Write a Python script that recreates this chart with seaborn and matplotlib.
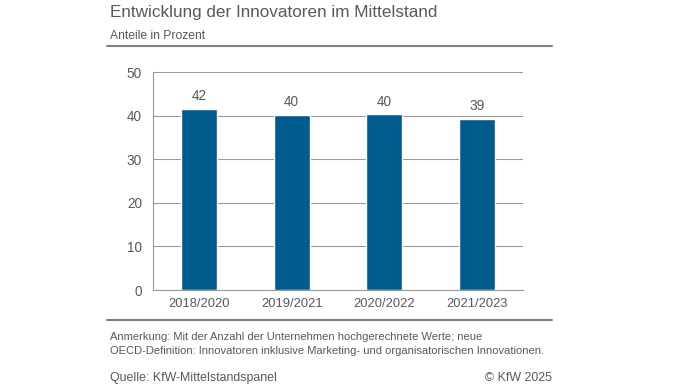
import matplotlib
matplotlib.use('Agg')
import matplotlib.pyplot as plt
import seaborn as sns
import pandas as pd
import numpy as np

# --- Data ---
periods = ['2018/2020', '2019/2021', '2020/2022', '2021/2023']
shares = [41.6, 40.1, 40.3, 39.3]
labels = ['42', '40', '40', '39']

title = 'Entwicklung der Innovatoren im Mittelstand'
subtitle = 'Anteile in Prozent'
note_lines = ['Anmerkung: Mit der Anzahl der Unternehmen hochgerechnete Werte; neue',
              'OECD-Definition: Innovatoren inklusive Marketing- und organisatorischen Innovationen.']
source = 'Quelle: KfW-Mittelstandspanel'
copyright_txt = '\u00a9 KfW 2025'

# --- Style ---
sns.set_style('white')
plt.rcParams['font.family'] = ['Liberation Sans', 'DejaVu Sans']
TEXT = '#595959'
BAR = '#005B8E'
GRID = '#9a9a9a'

df = pd.DataFrame({'period': periods, 'share': shares})

fig = plt.figure(figsize=(6.96, 3.92), dpi=100)
ax = fig.add_axes([153 / 696, 1 - 290 / 392, 370 / 696, 218 / 392])

sns.barplot(data=df, x='period', y='share', color=BAR, width=0.39,
            saturation=1, ax=ax, zorder=3)

ax.set_ylim(0, 50)
ax.set_xlim(-0.5, len(periods) - 0.5)
ax.set_yticks(np.arange(0, 51, 10))
ax.yaxis.grid(True, color=GRID, linewidth=0.8, zorder=0)
ax.set_axisbelow(True)
ax.set_xlabel('')
ax.set_ylabel('')

for s in ['top', 'right']:
    ax.spines[s].set_visible(False)
for s in ['left', 'bottom']:
    ax.spines[s].set_color(GRID)
    ax.spines[s].set_linewidth(0.8)

# category boundary ticks on x, labels centred
ax.set_xticks(np.arange(-0.5, len(periods), 1.0), minor=True)
ax.tick_params(axis='x', which='minor', length=4, color=GRID, width=0.8)
ax.tick_params(axis='x', which='major', length=0, labelsize=9.3, labelcolor=TEXT, pad=6)
ax.tick_params(axis='y', length=4, color=GRID, width=0.8, labelsize=9.8, labelcolor=TEXT, pad=4)

for bar, lab in zip(ax.patches, labels):
    ax.text(bar.get_x() + bar.get_width() / 2, bar.get_height() + 1.3, lab,
            ha='center', va='bottom', fontsize=9.8, color=TEXT)

# --- Titles, rules, notes ---
fig.text(110 / 696, 1 - 13 / 392, title, fontsize=12.3, color=TEXT, va='center', ha='left')
fig.text(110 / 696, 1 - 36 / 392, subtitle, fontsize=8.7, color=TEXT, va='center', ha='left')
fig.add_artist(plt.Line2D([107 / 696, 552 / 696], [1 - 46 / 392, 1 - 46 / 392],
                          color='#7f7f7f', linewidth=1.5))
fig.add_artist(plt.Line2D([107 / 696, 552 / 696], [1 - 320 / 392, 1 - 320 / 392],
                          color='#7f7f7f', linewidth=1.5))
fig.text(110 / 696, 1 - 337 / 392, note_lines[0], fontsize=8.05, color=TEXT, va='center', ha='left')
fig.text(110 / 696, 1 - 351 / 392, note_lines[1], fontsize=8.05, color=TEXT, va='center', ha='left')
fig.text(110 / 696, 1 - 378 / 392, source, fontsize=8.9, color=TEXT, va='center', ha='left')
fig.text(552 / 696, 1 - 378 / 392, copyright_txt, fontsize=8.9, color=TEXT, va='center', ha='right')

fig.savefig('out.png', dpi=100)
